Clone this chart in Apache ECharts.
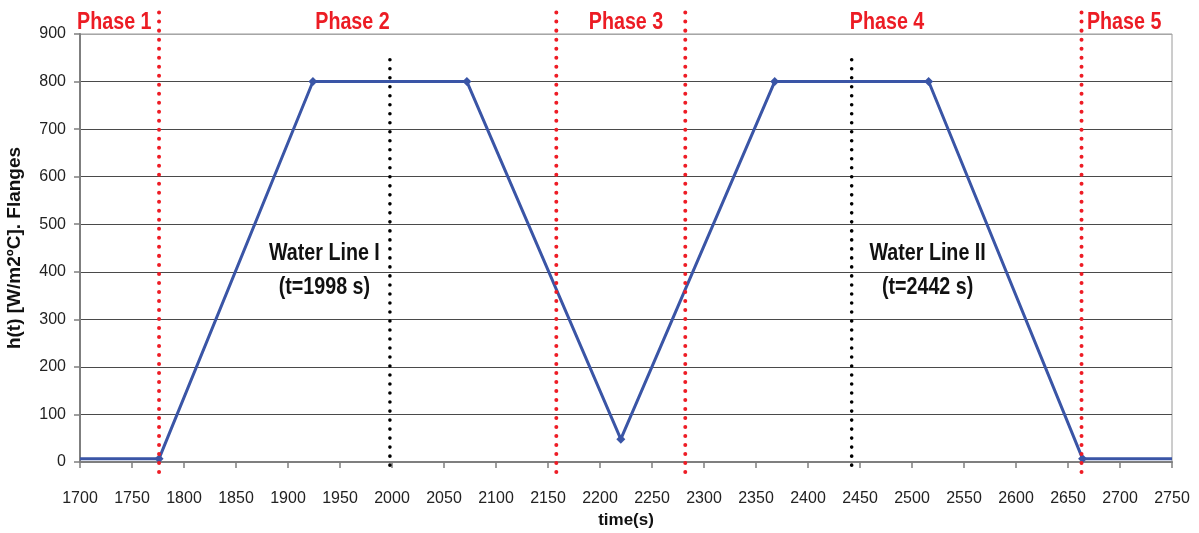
<!DOCTYPE html>
<html>
<head>
<meta charset="utf-8">
<script src="https://cdn.jsdelivr.net/npm/echarts@6/dist/echarts.min.js"></script>
<style>
html,body{margin:0;padding:0;background:#fff;}
#chart{width:1199px;height:533px;}
</style>
</head>
<body>
<div id="chart"></div>
<script>
// ---- data ----
var times = [1700, 1776, 1924, 2072, 2220, 2368, 2516, 2664, 2750];
var hValues = [7, 7, 800, 800, 48, 800, 800, 7, 7];
var markerShown = [false, true, true, true, true, true, true, true, false];

var phaseNames = ['Phase 1', 'Phase 2', 'Phase 3', 'Phase 4', 'Phase 5'];
var phaseX = [1733, 1962, 2225, 2476, 2704];
var phaseY = 925;

var phaseBoundaries = [1776, 2158, 2282, 2663];
var waterLineTimes = [1998, 2442];
var waterLineTitles = ['Water Line I', 'Water Line II'];
var waterLineSubs = ['(t=1998 s)', '(t=2442 s)'];
var waterLabelX = [1935, 2515];
var waterLabelY = [439, 368];

var xTicksMin = 1700, xTicksMax = 2750, xStep = 50;
var yTicksMin = 0, yTicksMax = 900, yStep = 100;

var SANS = '"Liberation Sans", Arial, sans-serif';
var NARROW_SCALE = 0.82;

var chart = echarts.init(document.getElementById('chart'));

var lineData = times.map(function (t, i) {
  return {
    value: [t, hValues[i]],
    symbol: markerShown[i] ? 'diamond' : 'none',
    symbolSize: 9
  };
});

var splitColors = [];
for (var v = yTicksMin; v <= yTicksMax; v += yStep) {
  splitColors.push(v === yTicksMax ? '#a6a6a6' : '#4a4a4a');
}

chart.setOption({
  animation: false,
  backgroundColor: '#ffffff',
  grid: {
    left: 80, right: 27, top: 34, bottom: 71,
    outerBoundsMode: 'none',
    show: true, borderColor: '#9a9a9a', borderWidth: 1,
    backgroundColor: 'transparent'
  },
  xAxis: {
    type: 'value',
    min: xTicksMin, max: xTicksMax, interval: xStep,
    name: 'time(s)',
    nameLocation: 'middle',
    nameGap: 50,
    nameTextStyle: { fontFamily: SANS, fontWeight: 'bold', fontSize: 17, color: '#111' },
    axisLine: { show: true, lineStyle: { color: '#7f7f7f', width: 2 } },
    axisTick: { show: true, length: 6, inside: false, lineStyle: { color: '#7f7f7f', width: 1.5 } },
    axisLabel: { margin: 29, fontFamily: SANS, fontSize: 16, color: '#222', formatter: function (v) { return String(v); } },
    splitLine: { show: false }
  },
  yAxis: {
    type: 'value',
    min: yTicksMin, max: yTicksMax, interval: yStep,
    name: 'h(t) [W/m2ºC]. Flanges',
    nameLocation: 'middle',
    nameGap: 56,
    nameTextStyle: { fontFamily: SANS, fontWeight: 'bold', fontSize: 19, color: '#111' },
    axisLine: { show: true, lineStyle: { color: '#7f7f7f', width: 2 } },
    axisTick: { show: true, length: 6, lineStyle: { color: '#7f7f7f', width: 1.5 } },
    axisLabel: { margin: 14, fontFamily: SANS, fontSize: 16, color: '#222', formatter: function (v) { return String(v); } },
    splitLine: { show: true, lineStyle: { color: splitColors, width: 1 } }
  },
  series: [{
    type: 'line',
    data: lineData,
    lineStyle: { color: '#3a55a6', width: 3 },
    itemStyle: { color: '#3a55a6' },
    z: 5
  }]
});

function px(x, y) { return chart.convertToPixel({ gridIndex: 0 }, [x, y]); }

var graphics = [];
phaseBoundaries.forEach(function (t) {
  var a = px(t, 945), b = px(t, -34);
  graphics.push({
    type: 'line', z: 10,
    shape: { x1: a[0], y1: a[1], x2: b[0], y2: b[1] },
    style: { stroke: '#ee1c25', lineWidth: 4, lineDash: [0.01, 9], lineCap: 'round' }
  });
});
waterLineTimes.forEach(function (t) {
  var a = px(t, 846), b = px(t, -22);
  graphics.push({
    type: 'line', z: 10,
    shape: { x1: a[0], y1: a[1], x2: b[0], y2: b[1] },
    style: { stroke: '#000000', lineWidth: 3.6, lineDash: [0.01, 9], lineCap: 'round' }
  });
});
phaseNames.forEach(function (n, i) {
  var p = px(phaseX[i], phaseY);
  graphics.push({
    type: 'text', z: 12, x: p[0], y: p[1], scaleX: NARROW_SCALE,
    style: { text: n, fill: '#ec1c24', font: 'bold 24px ' + SANS, align: 'center', verticalAlign: 'middle' }
  });
});
waterLineTitles.forEach(function (n, i) {
  var p1 = px(waterLabelX[i], waterLabelY[0]);
  var p2 = px(waterLabelX[i], waterLabelY[1]);
  graphics.push({
    type: 'text', z: 12, x: p1[0], y: p1[1], scaleX: NARROW_SCALE,
    style: { text: n, fill: '#111', font: 'bold 24px ' + SANS, align: 'center', verticalAlign: 'middle' }
  });
  graphics.push({
    type: 'text', z: 12, x: p2[0], y: p2[1], scaleX: NARROW_SCALE,
    style: { text: waterLineSubs[i], fill: '#111', font: 'bold 24px ' + SANS, align: 'center', verticalAlign: 'middle' }
  });
});

chart.setOption({ graphic: graphics });
</script>
</body>
</html>
